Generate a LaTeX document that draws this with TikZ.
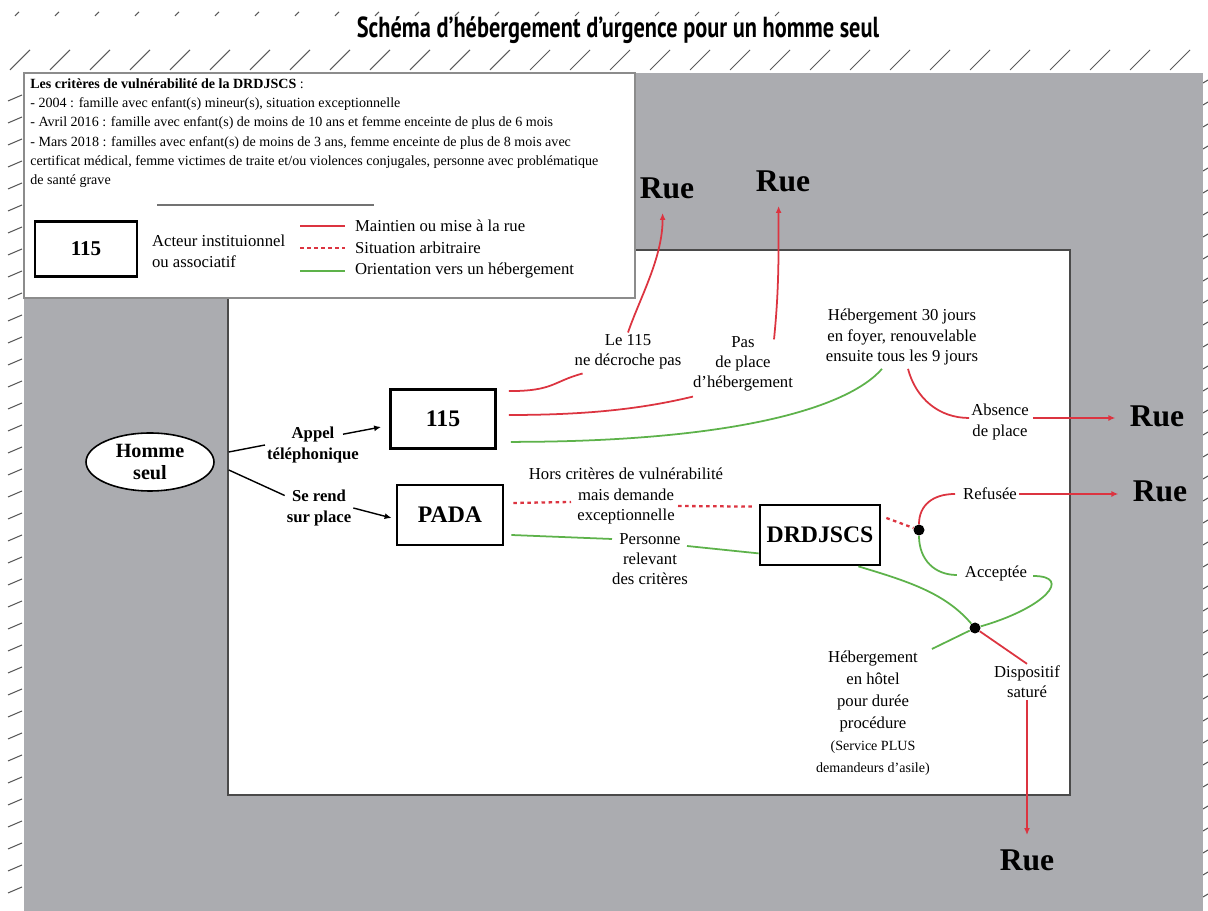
\documentclass[tikz,border=0pt]{standalone}
\usepackage{fontspec}
\usepackage{graphicx}
\setmainfont{Liberation Serif}
\newfontfamily\titlefont{PT Sans}
\usetikzlibrary{arrows.meta,positioning,calc,shapes.geometric}
\definecolor{ruegray}{HTML}{ABACB0}
\definecolor{ruered}{HTML}{DC3440}
\definecolor{ruegreen}{HTML}{5DB24A}
\definecolor{framegray}{HTML}{4A4A4A}

\begin{document}
\begin{tikzpicture}[x=0.02cm,y=-0.02cm,
  actor/.style={draw,line width=1.6pt,fill=white,inner sep=0pt,font=\fontsize{13.5}{16}\selectfont\bfseries},
  lbl/.style={align=center,inner sep=1pt,font=\fontsize{9.5}{11.5}\selectfont},
  blbl/.style={lbl,font=\fontsize{9.5}{11.5}\selectfont\bfseries},
  keytext/.style={align=left,anchor=west,inner sep=1pt,font=\fontsize{9.5}{12}\selectfont},
  rue/.style={inner sep=8pt,font=\fontsize{18}{20}\selectfont\bfseries},
  junction/.style={circle,fill=black,minimum size=0.22cm,inner sep=0pt},
  redline/.style={draw=ruered,line width=1pt},
  greenline/.style={draw=ruegreen,line width=1pt},
  dotline/.style={draw=ruered,line width=1.3pt,dash pattern=on 2pt off 2pt},
  hatch/.style={draw=black!65,line width=0.6pt},
  arrow/.style={-{Latex[length=1.4mm,width=1.2mm]}}
]
\useasboundingbox[fill=white] (0,0) rectangle (1208,911);

% hatched margins
\foreach \x in {15,55,...,775} \draw[hatch] (\x,16) -- (\x+4,12);
\foreach \x in {10,50,...,1210} \draw[hatch] (\x,70) -- (\x+20,50);
\foreach \y in {95,117,...,905} \draw[hatch] (8,\y+6) -- (22,\y);
\foreach \y in {80,102,...,905} \draw[hatch] (1203,\y+3) -- (1208,\y);
\fill[ruegray] (24,73) rectangle (1203,911);
\draw[framegray,line width=1.3pt,fill=white] (228,250) rectangle (1070,795);

\node[font=\titlefont\bfseries\fontsize{16.5}{18}\selectfont] (title) at (618,30)
  {\scalebox{0.77}[1]{Schéma d’hébergement d’urgence pour un homme seul}};

% legend
\draw[black!45,line width=0.6pt,fill=white] (24,73) rectangle (635,298);
\node[align=left,anchor=north west,inner sep=0pt,font=\fontsize{8}{11}\selectfont] (criteria) at (30,78)
  {\textbf{Les critères de vulnérabilité de la DRDJSCS} :\\
   - 2004 : famille avec enfant(s) mineur(s), situation exceptionnelle\\
   - Avril 2016 : famille avec enfant(s) de moins de 10 ans et femme enceinte de plus de 6 mois\\
   - Mars 2018 : familles avec enfant(s) de moins de 3 ans, femme enceinte de plus de 8 mois avec\\
   certificat médical, femme victimes de traite et/ou violences conjugales, personne avec problématique\\
   de santé grave};
\draw[black!55,line width=1.2pt] (157,205) -- (374,205);
\node[actor,minimum width=2.04cm,minimum height=1.1cm,font=\fontsize{12}{14}\selectfont\bfseries] (key115) at (86,249) {115};
\node[keytext] (keyactor) at (150,251) {Acteur instituionnel\\ou associatif};
\node[keytext] (keyred) at (353,226) {Maintien ou mise à la rue};
\node[keytext] (keydot) at (353,248) {Situation arbitraire};
\node[keytext] (keygreen) at (353,271) {Orientation vers un hébergement};
\draw[redline] ($(keyred.west)+(-53,0)$) -- ($(keyred.west)+(-8,0)$);
\draw[dotline,line width=1pt] ($(keydot.west)+(-53,0)$) -- ($(keydot.west)+(-8,0)$);
\draw[greenline] ($(keygreen.west)+(-53,0)$) -- ($(keygreen.west)+(-8,0)$);

% actors
\node[ellipse,draw,line width=0.9pt,fill=white,minimum width=2.56cm,minimum height=1.16cm,inner sep=0pt,
  align=center,font=\fontsize{11.5}{13}\selectfont\bfseries] (homme) at (150,462) {Homme\\seul};
\node[actor,minimum width=2.1cm,minimum height=1.18cm] (box115) at (443,419) {115};
\node[actor,minimum width=2.12cm,minimum height=1.2cm] (pada) at (450,515) {PADA};
\node[actor,minimum width=2.4cm,minimum height=1.2cm] (drdjscs) at (820,535) {DRDJSCS};
\node[junction] (fork) at (919,530) {};
\node[junction] (merge) at (975,628) {};

% labels
\node[blbl] (appel) at (313,445) {Appel\\téléphonique};
\node[blbl] (serend) at (319,508) {Se rend\\sur place};
\node[lbl] (ne115) at (628,352) {Le 115\\ne décroche pas};
\node[lbl] (noplace) at (743,364) {Pas\\de place\\d'hébergement};
\node[lbl] (foyer) at (902,337) {Hébergement 30 jours\\en foyer, renouvelable\\ensuite tous les 9 jours};
\node[lbl] (absence) at (1000,422) {Absence\\de place};
\node[lbl] (hors) at (626,496) {Hors critères de vulnérabilité\\mais demande\\exceptionnelle};
\node[lbl] (relevant) at (650,559) {Personne\\relevant\\des critères};
\node[lbl] (refusee) at (990,494) {Refusée};
\node[lbl] (acceptee) at (996,573) {Acceptée};
\node[lbl,anchor=north,font=\fontsize{9.5}{12.5}\selectfont] (hotel) at (873,649)
  {Hébergement\\en hôtel\\pour durée\\procédure\\{\fontsize{8}{10}\selectfont(Service PLUS}\\{\fontsize{8}{10}\selectfont demandeurs d'asile)}};
\node[lbl] (sature) at (1027,682) {Dispositif\\saturé};

\node[rue] (rue1) at (667,188) {Rue};
\node[rue] (rue2) at (783,181) {Rue};
\node[rue] (rue3) at (1157,416) {Rue};
\node[rue] (rue4) at (1160,491) {Rue};
\node[rue] (rue5) at (1027,860) {Rue};
\coordinate (absout) at ($(absence.east)+(2,-4)$);

% access
\draw[line width=0.8pt] ($(homme.east)+(14,-10)$) -- (appel.west);
\draw[line width=0.8pt,arrow] ($(appel.north east)+(-18,9)$) -- ($(box115.west)+(-8,8)$);
\draw[line width=0.8pt] ($(homme.east)+(14,8)$) -- (serend.160);
\draw[line width=0.8pt,arrow] (serend.east) -- ($(pada.west)+(-4,3)$);

% 115
\draw[redline] ($(box115.north east)+(12,3)$) .. controls +(45,0) and +(-30,8) .. ($(ne115.south west)+(10,2)$);
\draw[redline,arrow] (ne115.north) .. controls +(12,-35) and +(0,45) .. (rue1.-100);
\draw[redline] ($(box115.east)+(12,-4)$) .. controls +(80,0) and +(-50,12) .. ($(noplace.south west)+(2,3)$);
\draw[redline,arrow] ($(noplace.north east)+(-21,5)$) .. controls +(5,-50) and +(0,50) .. (rue2.-100);
\draw[greenline] ($(box115.south east)+(14,-8)$) .. controls +(220,0) and +(-35,40) .. ($(foyer.south)+(-20,2)$);
\draw[redline] ($(foyer.south)+(6,2)$) .. controls +(8,30) and +(-30,0) .. ($(absence.west)+(0,-4)$);
\draw[redline,arrow] (absout) -- (absout -| rue3.west);

% PADA
\draw[dotline] ($(pada.east)+(9,-12)$) -- ($(hors.center)+(-55,6)$);
\draw[dotline] ($(hors.center)+(52,10)$) -- ($(drdjscs.north west)+(-6,3)$);
\draw[dotline] ($(drdjscs.east)+(5,-17)$) -- (fork);
\draw[greenline] ($(pada.east)+(7,20)$) -- ($(relevant.center)+(-38,-20)$);
\draw[greenline] ($(relevant.center)+(37,-13)$) -- ($(drdjscs.south west)+(0,-13)$);

% DRDJSCS
\draw[redline] (fork) .. controls +(0,-25) and +(-22,0) .. ($(refusee.west)+(-6,0)$);
\draw[greenline] (fork) .. controls +(0,30) and +(-22,0) .. ($(acceptee.west)+(-6,2)$);
\draw[redline,arrow] (refusee.east) -- (refusee.east -| rue4.west);
\draw[greenline] ($(acceptee.east)+(4,3)$) .. controls +(40,0) and +(70,-20) .. (merge);
\draw[greenline] ($(drdjscs.south east)+(-23,0)$) .. controls +(50,15) and +(-30,-35) .. (merge);
\draw[greenline] (merge) -- (hotel.north east);
\draw[redline] (merge) -- (sature.north);
\draw[redline,arrow] (sature.south) -- (rue5.north);
\end{tikzpicture}
\end{document}
